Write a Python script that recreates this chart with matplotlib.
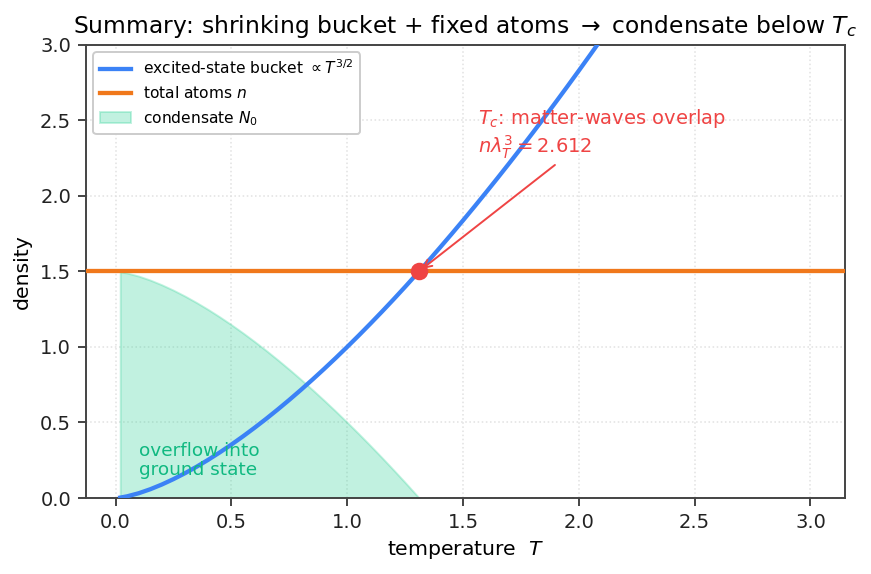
import numpy as np
import matplotlib
matplotlib.use("Agg")
import matplotlib.pyplot as plt

# ---- data ----
temperature = [0.02, 0.05, 0.10, 0.15, 0.20, 0.25, 0.30, 0.35, 0.40, 0.45, 0.50,
               0.55, 0.60, 0.65, 0.70, 0.75, 0.80, 0.85, 0.90, 0.95, 1.00,
               1.05, 1.10, 1.15, 1.20, 1.25, 1.30, 1.31, 1.35, 1.40, 1.45,
               1.50, 1.55, 1.60, 1.65, 1.70, 1.75, 1.80, 1.85, 1.90, 1.95,
               2.00, 2.05, 2.10, 2.20, 2.40, 2.60, 2.80, 3.00]
bucket = [0.0028, 0.0112, 0.0316, 0.0581, 0.0894, 0.1250, 0.1643, 0.2071, 0.2530, 0.3019, 0.3536,
          0.4079, 0.4648, 0.5240, 0.5857, 0.6495, 0.7155, 0.7837, 0.8538, 0.9259, 1.0000,
          1.0759, 1.1537, 1.2332, 1.3145, 1.3975, 1.4822, 1.4994, 1.5685, 1.6565, 1.7460,
          1.8371, 1.9297, 2.0239, 2.1195, 2.2165, 2.3150, 2.4150, 2.5163, 2.6190, 2.7230,
          2.8284, 2.9352, 3.0432, 3.2631, 3.7181, 4.1924, 4.6853, 5.1962]
total_atoms = 1.5
T_c = 1.31

BLUE = "#3b82f6"
ORANGE = "#f0781b"
RED = "#ef4444"
GREEN = "#10b981"
FILL = "#34d399"

T = np.array(temperature)
B = np.array(bucket)
mask = T <= T_c
T_cond = T[mask]
N0 = np.clip(total_atoms - B[mask], 0, None)

fig = plt.figure(figsize=(871/140, 574/140), dpi=140)
ax = fig.add_axes([85.7/871, 1 - 498/574, (845 - 85.7)/871, (498 - 44.7)/574])

ax.fill_between(T_cond, 0, N0, color=FILL, alpha=0.3, edgecolor=FILL,
                linewidth=1.0, label=r"condensate $N_0$", zorder=1)
ax.plot(T, B, color=BLUE, lw=2.2, label=r"excited-state bucket $\propto T^{3/2}$", zorder=3)
ax.axhline(total_atoms, color=ORANGE, lw=2.2, label=r"total atoms $n$", zorder=3)
ax.plot([T_c], [total_atoms], "o", color=RED, ms=8, zorder=5)

ax.annotate("", xy=(T_c, total_atoms), xytext=(1.91, 2.22),
            arrowprops=dict(arrowstyle="->", color=RED, lw=1.0), zorder=4)
ax.text(1.565, 2.41, "$T_c$: matter-waves overlap\n$n\\lambda_T^3 = 2.612$",
        color=RED, fontsize=10, ha="left", va="center", linespacing=1.2)
ax.text(0.10, 0.25, "overflow into\nground state", color=GREEN, fontsize=9.5,
        ha="left", va="center", linespacing=1.1)

ax.set_xlim(-0.129, 3.149)
ax.set_ylim(0, 3.0)
ax.set_xticks([0.0, 0.5, 1.0, 1.5, 2.0, 2.5, 3.0])
ax.set_yticks([0.0, 0.5, 1.0, 1.5, 2.0, 2.5, 3.0])
ax.grid(True, linestyle=":", color="#e2e2e2", linewidth=0.8)
ax.set_axisbelow(True)
for s in ax.spines.values():
    s.set_color("#444444")
    s.set_linewidth(1.0)
ax.tick_params(colors="#222222", direction="out", length=4, width=1.0, labelsize=10)
ax.tick_params(axis="both", color="#444444")

ax.set_xlabel("temperature  $T$", fontsize=10.5)
ax.set_ylabel("density", fontsize=10.5)
ax.set_title(r"Summary: shrinking bucket + fixed atoms $\rightarrow$ condensate below $T_c$",
             fontsize=12)

handles, labels = ax.get_legend_handles_labels()
order = [1, 2, 0]
ax.legend([handles[i] for i in order], [labels[i] for i in order],
          loc="upper left", fontsize=8, frameon=True, edgecolor="#cccccc",
          fancybox=True, framealpha=1.0)

fig.savefig("out.png", dpi=140)
